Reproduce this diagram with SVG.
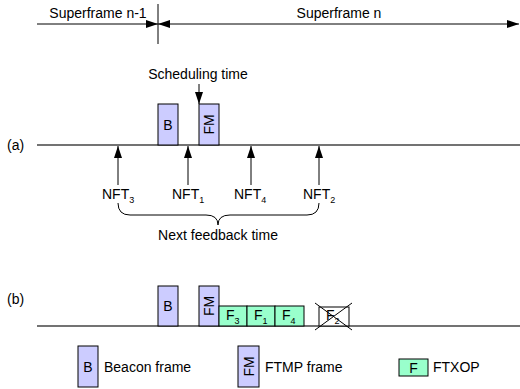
<svg xmlns="http://www.w3.org/2000/svg" width="520" height="389" viewBox="0 0 520 389">
<defs>
<marker id="ah" viewBox="0 0 12 8" refX="12" refY="4" markerWidth="12" markerHeight="8" markerUnits="userSpaceOnUse" orient="auto-start-reverse">
<path d="M0,0 L12,4 L0,8 z" fill="#000"/>
</marker>
<style>
text{font-family:"Liberation Sans",Arial,sans-serif;font-size:14px;fill:#000}
.sub{font-size:9px}
.ln{stroke:#000;stroke-width:1;fill:none}
.tl{stroke:#444;stroke-width:1.3;fill:none}
.bx{fill:#CCCCFF;stroke:#000;stroke-width:1}
.fx{fill:#99FFCC;stroke:#000;stroke-width:1}
.mid{text-anchor:middle}
</style>
</defs>
<rect width="520" height="389" fill="#fff"/>
<g id="connectors">
<line class="ln" x1="158" y1="4" x2="158" y2="44"/>
<line class="ln" x1="37" y1="24" x2="158" y2="24" marker-end="url(#ah)"/>
<line class="ln" x1="158" y1="24" x2="519" y2="24" marker-start="url(#ah)" marker-end="url(#ah)"/>
<line class="tl" x1="37" y1="145" x2="520" y2="145"/>
<line class="tl" x1="37" y1="326" x2="520" y2="326"/>
<line class="ln" x1="199" y1="84" x2="199" y2="104" marker-end="url(#ah)"/>
<line class="ln" x1="118" y1="185" x2="118" y2="146" marker-end="url(#ah)"/>
<line class="ln" x1="188" y1="185" x2="188" y2="146" marker-end="url(#ah)"/>
<line class="ln" x1="251" y1="185" x2="251" y2="146" marker-end="url(#ah)"/>
<line class="ln" x1="319" y1="185" x2="319" y2="146" marker-end="url(#ah)"/>
<path class="ln" d="M118,203 Q118,215 130,215 L206,215 Q218,215 218,225 Q218,215 230,215 L307,215 Q319,215 319,203"/>
</g>
<g id="labels">
<text x="98" y="18" class="mid">Superframe n-1</text>
<text x="339" y="18" class="mid">Superframe n</text>
<text x="198" y="79" class="mid">Scheduling time</text>
<text x="7" y="150">(a)</text>
<text x="7" y="304">(b)</text>
<text x="102" y="199">NFT<tspan class="sub" dy="4">3</tspan></text>
<text x="172" y="199">NFT<tspan class="sub" dy="4">1</tspan></text>
<text x="234" y="199">NFT<tspan class="sub" dy="4">4</tspan></text>
<text x="303" y="199">NFT<tspan class="sub" dy="4">2</tspan></text>
<text x="218" y="240" class="mid">Next feedback time</text>
</g>
<g id="a-beacon"><rect class="bx" x="158" y="104" width="20" height="41"/><text x="168" y="129.5" class="mid">B</text></g>
<g id="a-ftmp"><rect class="bx" x="199" y="104" width="20" height="41"/><text x="209" y="129.5" class="mid" transform="rotate(-90 209 124.5)">FM</text></g>
<g id="b-beacon"><rect class="bx" x="158" y="286" width="20" height="40"/><text x="168" y="311" class="mid">B</text></g>
<g id="b-ftmp"><rect class="bx" x="199" y="286" width="20" height="40"/><text x="209" y="311" class="mid" transform="rotate(-90 209 306)">FM</text></g>
<g id="b-f3"><rect class="fx" x="219" y="306" width="28" height="20"/><text x="226" y="319.5">F<tspan class="sub" dy="4">3</tspan></text></g>
<g id="b-f1"><rect class="fx" x="247" y="306" width="28" height="20"/><text x="254" y="319.5">F<tspan class="sub" dy="4">1</tspan></text></g>
<g id="b-f4"><rect class="fx" x="275" y="306" width="29" height="20"/><text x="282" y="319.5">F<tspan class="sub" dy="4">4</tspan></text></g>
<g id="b-f2"><rect x="319" y="307" width="30" height="19" fill="#fff" stroke="#000"/><text x="326" y="319.5" fill="#333">F<tspan class="sub" dy="4">2</tspan></text><line class="ln" x1="315" y1="303" x2="352" y2="330"/><line class="ln" x1="352" y1="303" x2="315" y2="330"/></g>
<g id="legend-beacon"><rect class="bx" x="78" y="346" width="20" height="41"/><text x="88" y="372" class="mid">B</text><text x="104" y="372">Beacon frame</text></g>
<g id="legend-ftmp"><rect class="bx" x="238" y="346" width="21" height="41"/><text x="248.5" y="371.5" class="mid" transform="rotate(-90 248.5 366.5)">FM</text><text x="265" y="372">FTMP frame</text></g>
<g id="legend-ftxop"><rect class="fx" x="399" y="359" width="29" height="17"/><text x="413.5" y="372.5" class="mid">F</text><text x="433" y="372">FTXOP</text></g>
</svg>
